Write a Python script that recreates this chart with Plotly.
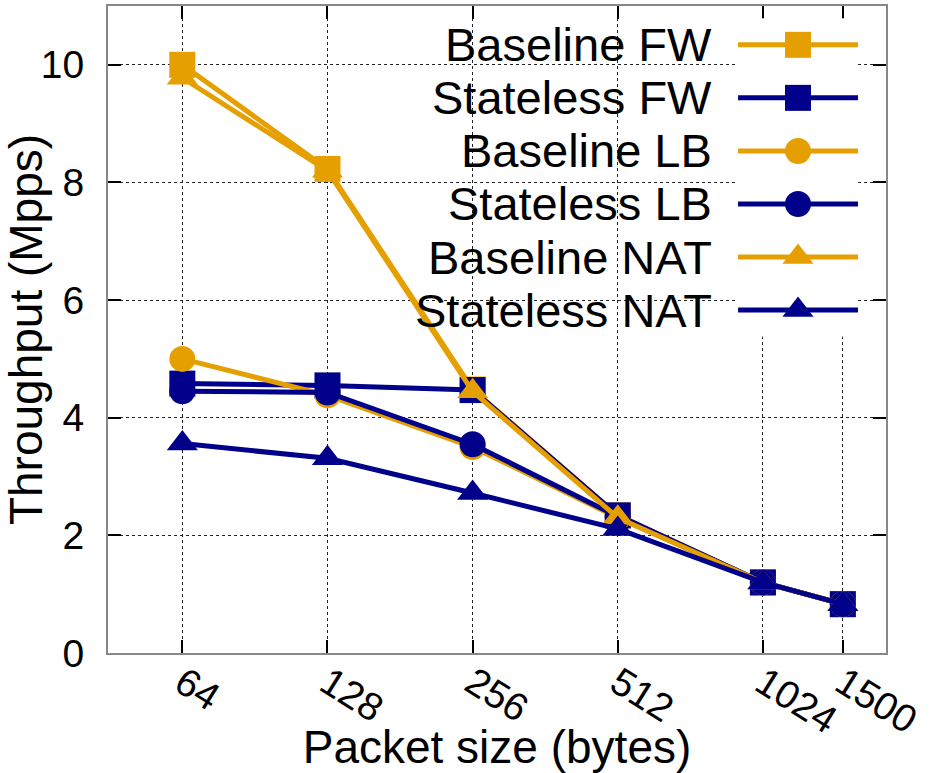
import plotly.graph_objects as go

# ---- data ----
packet_sizes = [64, 128, 256, 512, 1024, 1500]
tick_labels = ["64", "128", "256", "512", "1024", "1500"]

baseline_fw = [10.0, 8.23, 4.48, 2.34, 1.20, 0.83]
stateless_fw = [4.58, 4.55, 4.47, 2.34, 1.20, 0.83]
baseline_lb = [5.0, 4.38, 3.50, 2.30, 1.20, 0.83]
stateless_lb = [4.45, 4.43, 3.55, 2.32, 1.20, 0.83]
baseline_nat = [9.78, 8.20, 4.45, 2.30, 1.20, 0.83]
stateless_nat = [3.56, 3.31, 2.72, 2.11, 1.20, 0.83]

series_names = ["Baseline FW", "Stateless FW", "Baseline LB",
                "Stateless LB", "Baseline NAT", "Stateless NAT"]
series_values = [baseline_fw, stateless_fw, baseline_lb,
                 stateless_lb, baseline_nat, stateless_nat]

y_ticks = [0, 2, 4, 6, 8, 10]

# ---- styles ----
ORANGE = "#E69F00"
NAVY = "#00008B"
colors = [ORANGE, NAVY, ORANGE, NAVY, ORANGE, NAVY]
symbols = ["square", "square", "circle", "circle", "triangle-up", "triangle-up"]
sizes = [26, 26, 26, 26, 27, 27]
FONT = "Liberation Sans, Arial, sans-serif"
LINE_W = 5

X_RANGE = [1.652, 3.2656]   # log10 units
Y_RANGE = [0, 11]

fig = go.Figure()

for name, vals, c, s, sz in zip(series_names, series_values, colors, symbols, sizes):
    fig.add_trace(go.Scatter(
        x=packet_sizes, y=vals, name=name, mode="lines+markers",
        line=dict(color=c, width=LINE_W),
        marker=dict(symbol=s, size=sz, color=c, line=dict(width=0)),
        showlegend=False, cliponaxis=False,
    ))

# ---- custom gnuplot-style key (text left, sample right) ----
for i, (name, c, s, sz) in enumerate(zip(series_names, colors, symbols, sizes)):
    fig.add_trace(go.Scatter(
        x=[0, 1], y=[i, i], mode="lines", line=dict(color=c, width=LINE_W),
        xaxis="x2", yaxis="y2", showlegend=False, hoverinfo="skip", cliponaxis=False))
    fig.add_trace(go.Scatter(
        x=[0.5], y=[i], mode="markers",
        marker=dict(symbol=s, size=sz, color=c, line=dict(width=0)),
        xaxis="x2", yaxis="y2", showlegend=False, hoverinfo="skip", cliponaxis=False))
    fig.add_annotation(
        x=0, xref="x2", y=i, yref="y2", text=name, showarrow=False,
        xanchor="right", yanchor="middle", xshift=-24,
        font=dict(family=FONT, size=47, color="black"))

# opaque key box (covers grid only, traces stay on top)
box_x0 = X_RANGE[0] + 0.337 * (X_RANGE[1] - X_RANGE[0])
box_y0 = Y_RANGE[0] + 0.49 * (Y_RANGE[1] - Y_RANGE[0])
fig.add_shape(type="rect", xref="x", yref="y",
              x0=box_x0, x1=X_RANGE[1], y0=box_y0, y1=Y_RANGE[1],
              fillcolor="white", line=dict(width=0), layer="between")

axis_common = dict(
    showline=True, linecolor="#888888", linewidth=2, mirror="allticks",
    ticks="inside", ticklen=13, tickwidth=1.5, tickcolor="black",
    showgrid=True, gridcolor="#222222", gridwidth=1, griddash="dot",
    zeroline=False, automargin=False,
    tickfont=dict(family=FONT, size=39, color="black"),
)

fig.update_layout(
    width=930, height=773,
    margin=dict(l=108, r=44, t=6, b=120),
    plot_bgcolor="white", paper_bgcolor="white",
    font=dict(family=FONT, color="black"),
    xaxis=dict(
        type="log", range=X_RANGE,
        tickmode="array", tickvals=packet_sizes, ticktext=tick_labels,
        tickangle=32, ticklabelstandoff=-10,
        title=dict(text="Packet size (bytes)", font=dict(family=FONT, size=46)),
        **axis_common,
    ),
    yaxis=dict(
        range=Y_RANGE, tickmode="array", tickvals=y_ticks,
        ticklabelstandoff=14,
        title=dict(text="Throughput (Mpps)", font=dict(family=FONT, size=46)),
        **axis_common,
    ),
    xaxis2=dict(domain=[0.8098, 0.964], range=[0, 1], visible=False, anchor="y2",
                fixedrange=True),
    yaxis2=dict(domain=[0.489, 0.981], range=[5.5, -0.5], visible=False, anchor="x2",
                fixedrange=True),
)

fig.write_html("out.html")
